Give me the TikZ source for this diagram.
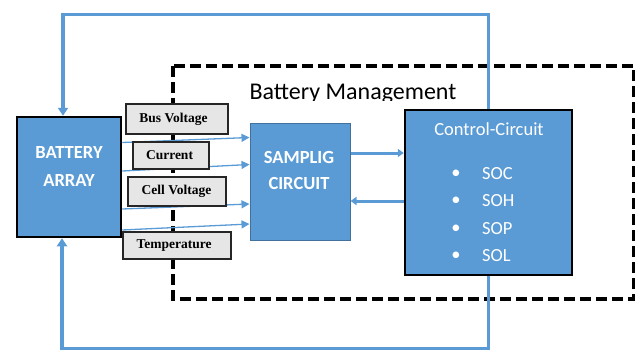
\documentclass[tikz,border=0pt]{standalone}
\usepackage{fontspec}
\setmainfont{Carlito}
\newfontfamily\tnr{Liberation Serif}
\usetikzlibrary{arrows.meta}
\definecolor{fillblue}{HTML}{5B9BD5}
\definecolor{edgeblue}{HTML}{41719C}
\definecolor{lineblue}{HTML}{5B9BD5}
\definecolor{labelgray}{HTML}{E7E6E6}
\begin{document}
\begin{tikzpicture}[x=1pt,y=-1pt,
  bluebox/.style={draw=black,line width=2.5pt,fill=fillblue,minimum width=#1,inner sep=0pt},
  whitebold/.style={text=white,font=\fontsize{18.5}{21}\selectfont\bfseries,inner sep=0pt},
  whitereg/.style={text=white,font=\fontsize{18.5}{21}\selectfont,inner sep=0pt},
  labelbox/.style={draw=black!85,line width=1.2pt,fill=labelgray,inner sep=0pt,font=\tnr\fontsize{13.5}{15}\selectfont\bfseries},
  thinarrow/.style={draw=lineblue,line width=1.3pt,-{Triangle[length=8pt,width=8pt]}},
  thickarrow/.style={draw=lineblue,line width=3pt,-{Triangle[length=6pt,width=8pt]}},
  looparrow/.style={draw=lineblue,line width=3.5pt,-{Triangle[length=8pt,width=10pt]}},
  dashbox/.style={draw=black,line width=3.5pt,dash pattern=on 11pt off 5pt}
]
\useasboundingbox (0,0) rectangle (635,349);

% dashed management frame
\draw[dashbox] (173,66) rectangle (634,299);
\begin{scope}
  \clip (235,70) rectangle (480,100.5);
  \node[anchor=base,font=\fontsize{24}{28}\selectfont,inner sep=0pt] (bmtitle) at (353,99.5) {Battery Management};
\end{scope}

% main blocks
\node[bluebox=104pt,minimum height=120pt] (ba) at (69,177) {};
\node[draw=edgeblue,line width=1pt,fill=fillblue,minimum width=100pt,minimum height=117pt,inner sep=0pt] (sc) at (300,181.5) {};
\node[bluebox=167pt,minimum height=165pt] (cc) at (488.5,192.5) {};

% texts in blocks
\node[whitebold] (bat1) at (69,152) {BATTERY};
\node[whitebold] (bat2) at (69,180) {ARRAY};
\node[whitebold] (sc1) at (299,157) {SAMPLIG};
\node[whitebold] (sc2) at (299,183) {CIRCUIT};
\node[whitereg] (cct) at (489,129) {Control-Circuit};
\foreach \t/\yy [count=\i] in {SOC/174,SOH/201,SOP/229,SOL/256}{
  \node[whitereg] (bul\i) at (456,\yy) {•};
  \node[whitereg,anchor=west] (st\i) at (482,\yy) {\t};
}

% helper coordinates for arrow heights
\coordinate (a1) at (0,142.5); \coordinate (b1) at (0,137.5);
\coordinate (a2) at (0,171);   \coordinate (b2) at (0,164.5);
\coordinate (a3) at (0,209);   \coordinate (b3) at (0,204);
\coordinate (a4) at (0,230);   \coordinate (b4) at (0,224);
\coordinate (r1) at (0,153);   \coordinate (r2) at (0,201);
\coordinate (tp) at (63,14.5);
\coordinate (bt) at (62,348.5);

% sensor arrows
\foreach \i in {1,2,3,4}{
  \draw[thinarrow] (ba.east |- a\i) -- (sc.west |- b\i);
}

% labels
\node[labelbox,minimum width=102pt,minimum height=30pt] (lbus) at (177,119) {Bus Voltage\hspace*{7pt}};
\node[labelbox,minimum width=76pt,minimum height=27pt] (lcur) at (171,155.5) {Current\hspace*{3pt}};
\node[labelbox,minimum width=98pt,minimum height=29pt] (lcell) at (177,191.5) {Cell Voltage\hspace*{1pt}};
\node[labelbox,minimum width=108pt,minimum height=27pt] (ltemp) at (177,245.5) {Temperature\hspace*{6pt}};

% sampling <-> control
\draw[thickarrow] (sc.east |- r1) -- (cc.west |- r1);
\draw[thickarrow] (cc.west |- r2) -- (sc.east |- r2);

% feedback loops
\draw[looparrow] (cc.north) |- (tp) -- (ba.north -| tp);
\draw[looparrow] (cc.south) |- (bt) -- (ba.south -| bt);
\end{tikzpicture}
\end{document}
